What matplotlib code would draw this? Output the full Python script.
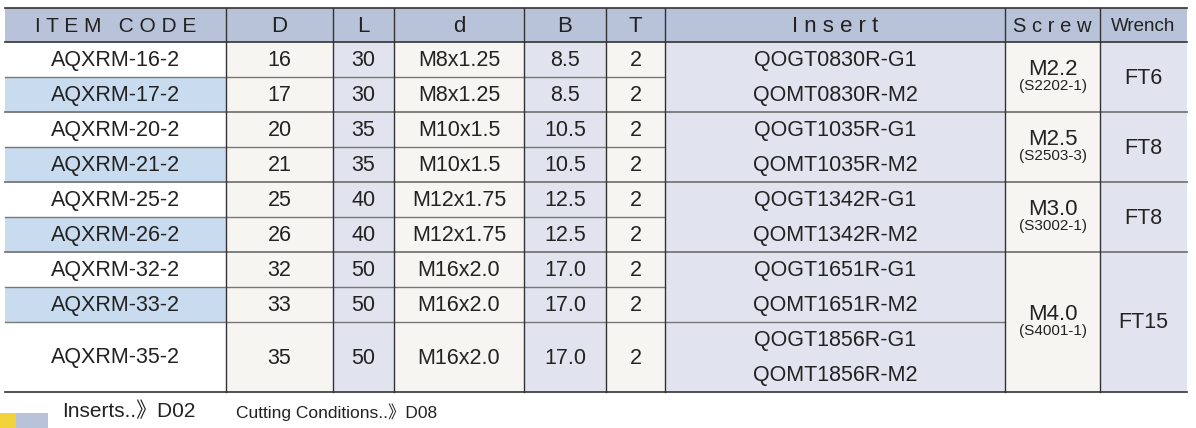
import matplotlib.pyplot as plt
from matplotlib.patches import Rectangle

plt.rcParams['font.family'] = 'Liberation Sans'

headers = ['I T E M   C O D E', 'D', 'L', 'd', 'B', 'T', 'I n s e r t', 'S c r e w', 'Wrench']
codes = ['AQXRM-16-2', 'AQXRM-17-2', 'AQXRM-20-2', 'AQXRM-21-2', 'AQXRM-25-2',
         'AQXRM-26-2', 'AQXRM-32-2', 'AQXRM-33-2', 'AQXRM-35-2']
D = ['16', '17', '20', '21', '25', '26', '32', '33', '35']
L = ['30', '30', '35', '35', '40', '40', '50', '50', '50']
d = ['M8x1.25', 'M8x1.25', 'M10x1.5', 'M10x1.5', 'M12x1.75', 'M12x1.75',
     'M16x2.0', 'M16x2.0', 'M16x2.0']
B = ['8.5', '8.5', '10.5', '10.5', '12.5', '12.5', '17.0', '17.0', '17.0']
T = ['2'] * 9
inserts = ['QOGT0830R-G1', 'QOMT0830R-M2', 'QOGT1035R-G1', 'QOMT1035R-M2',
           'QOGT1342R-G1', 'QOMT1342R-M2', 'QOGT1651R-G1', 'QOMT1651R-M2',
           'QOGT1856R-G1', 'QOMT1856R-M2']
screws = ['M2.2', 'M2.5', 'M3.0', 'M4.0']
screw_codes = ['(S2202-1)', '(S2503-3)', '(S3002-1)', '(S4001-1)']
wrenches = ['FT6', 'FT8', 'FT8', 'FT15']
group_rows = [2, 2, 2, 3]  # item rows per screw/wrench group

# layout (pixels)
cols = [5, 226, 333, 394, 524, 606, 665, 1005, 1100, 1187]
top, head_h, row_h = 8, 34, 35
fs = 15.5

HEAD = '#b8c2d9'
BLUE = '#c9dcef'
OFF = '#f6f5f2'
LAV = '#e1e4ee'
col_bg = [None, OFF, LAV, OFF, LAV, OFF, LAV, OFF, LAV]
LINE = '#333333'
THIN = '#777777'
TXT = '#222222'
head_fs = [15, 16, 16, 16, 16, 16, 16, 14.5, 13.5]

fig = plt.figure(figsize=(11.96, 4.28), dpi=100)
ax = fig.add_axes([0, 0, 1, 1])
ax.set_xlim(0, 1196)
ax.set_ylim(428, 0)
ax.axis('off')

y0 = top + head_h
heights = [row_h] * 8 + [2 * row_h]
ys = [y0]
for h in heights:
    ys.append(ys[-1] + h)
bottom = ys[-1]

# header
ax.add_patch(Rectangle((cols[0], top), cols[-1] - cols[0], head_h, color=HEAD, lw=0))
for i, h in enumerate(headers):
    ax.text((cols[i] + cols[i + 1]) / 2, top + head_h / 2 + 1, h, ha='center', va='center',
            fontsize=head_fs[i], color=TXT)

# column backgrounds
for i in range(1, 9):
    ax.add_patch(Rectangle((cols[i], y0), cols[i + 1] - cols[i], bottom - y0, color=col_bg[i], lw=0))
for r in range(9):
    c = BLUE if r % 2 == 1 and r < 8 else 'white'
    ax.add_patch(Rectangle((cols[0], ys[r]), cols[1] - cols[0], heights[r], color=c, lw=0))

# per-row values
for r in range(9):
    yc = (ys[r] + ys[r + 1]) / 2 + 1
    for i, vals in enumerate([codes, D, L, d, B, T]):
        ax.text((cols[i] + cols[i + 1]) / 2, yc, vals[r], ha='center', va='center',
                fontsize=fs, color=TXT)

# inserts
for k, name in enumerate(inserts):
    yc = y0 + row_h * k + row_h / 2 + 1
    ax.text((cols[6] + cols[7]) / 2, yc, name, ha='center', va='center', fontsize=fs, color=TXT)

# screw / wrench groups
r = 0
gy = [y0]
for g, n in enumerate(group_rows):
    ya, yb = ys[r], ys[r + n]
    gy.append(yb)
    ym = (ya + yb) / 2
    ax.text((cols[7] + cols[8]) / 2, ym + 3, screws[g], ha='center', va='bottom',
            fontsize=16, color=TXT)
    ax.text((cols[7] + cols[8]) / 2, ym + 2, screw_codes[g], ha='center', va='top',
            fontsize=11, color=TXT)
    ax.text((cols[8] + cols[9]) / 2, ym + 1, wrenches[g], ha='center', va='center',
            fontsize=fs, color=TXT)
    r += n

# horizontal lines
ax.plot([cols[0], cols[-1]], [top, top], color=LINE, lw=1.2)
ax.plot([cols[0], cols[-1]], [y0, y0], color=LINE, lw=1.2)
for r in range(1, 9):
    y = ys[r]
    if y in gy:
        ax.plot([cols[0], cols[-1]], [y, y], color=THIN, lw=1.3)
    else:
        ax.plot([cols[0], cols[6]], [y, y], color=THIN, lw=1.0)
ax.plot([cols[6], cols[7]], [ys[8], ys[8]], color=THIN, lw=1.0)
ax.plot([cols[0], cols[-1]], [bottom, bottom], color=LINE, lw=1.2)

# vertical lines
for x in cols[1:-1]:
    ax.plot([x, x], [top, bottom], color=LINE, lw=1.0)

# footer
ax.add_patch(Rectangle((0, 413), 16, 15, color='#f2d43a', lw=0))
ax.add_patch(Rectangle((16, 413), 32, 15, color='#b8c2d9', lw=0))
ax.text(62, 411, 'Inserts..》D02', ha='left', va='center', fontsize=15, color=TXT,
        fontfamily=['Liberation Sans', 'Noto Sans CJK JP'])
ax.text(236, 412, 'Cutting Conditions..》D08', ha='left', va='center', fontsize=12.5, color=TXT,
        fontfamily=['Liberation Sans', 'Noto Sans CJK JP'])

fig.savefig('out.png', dpi=100)
